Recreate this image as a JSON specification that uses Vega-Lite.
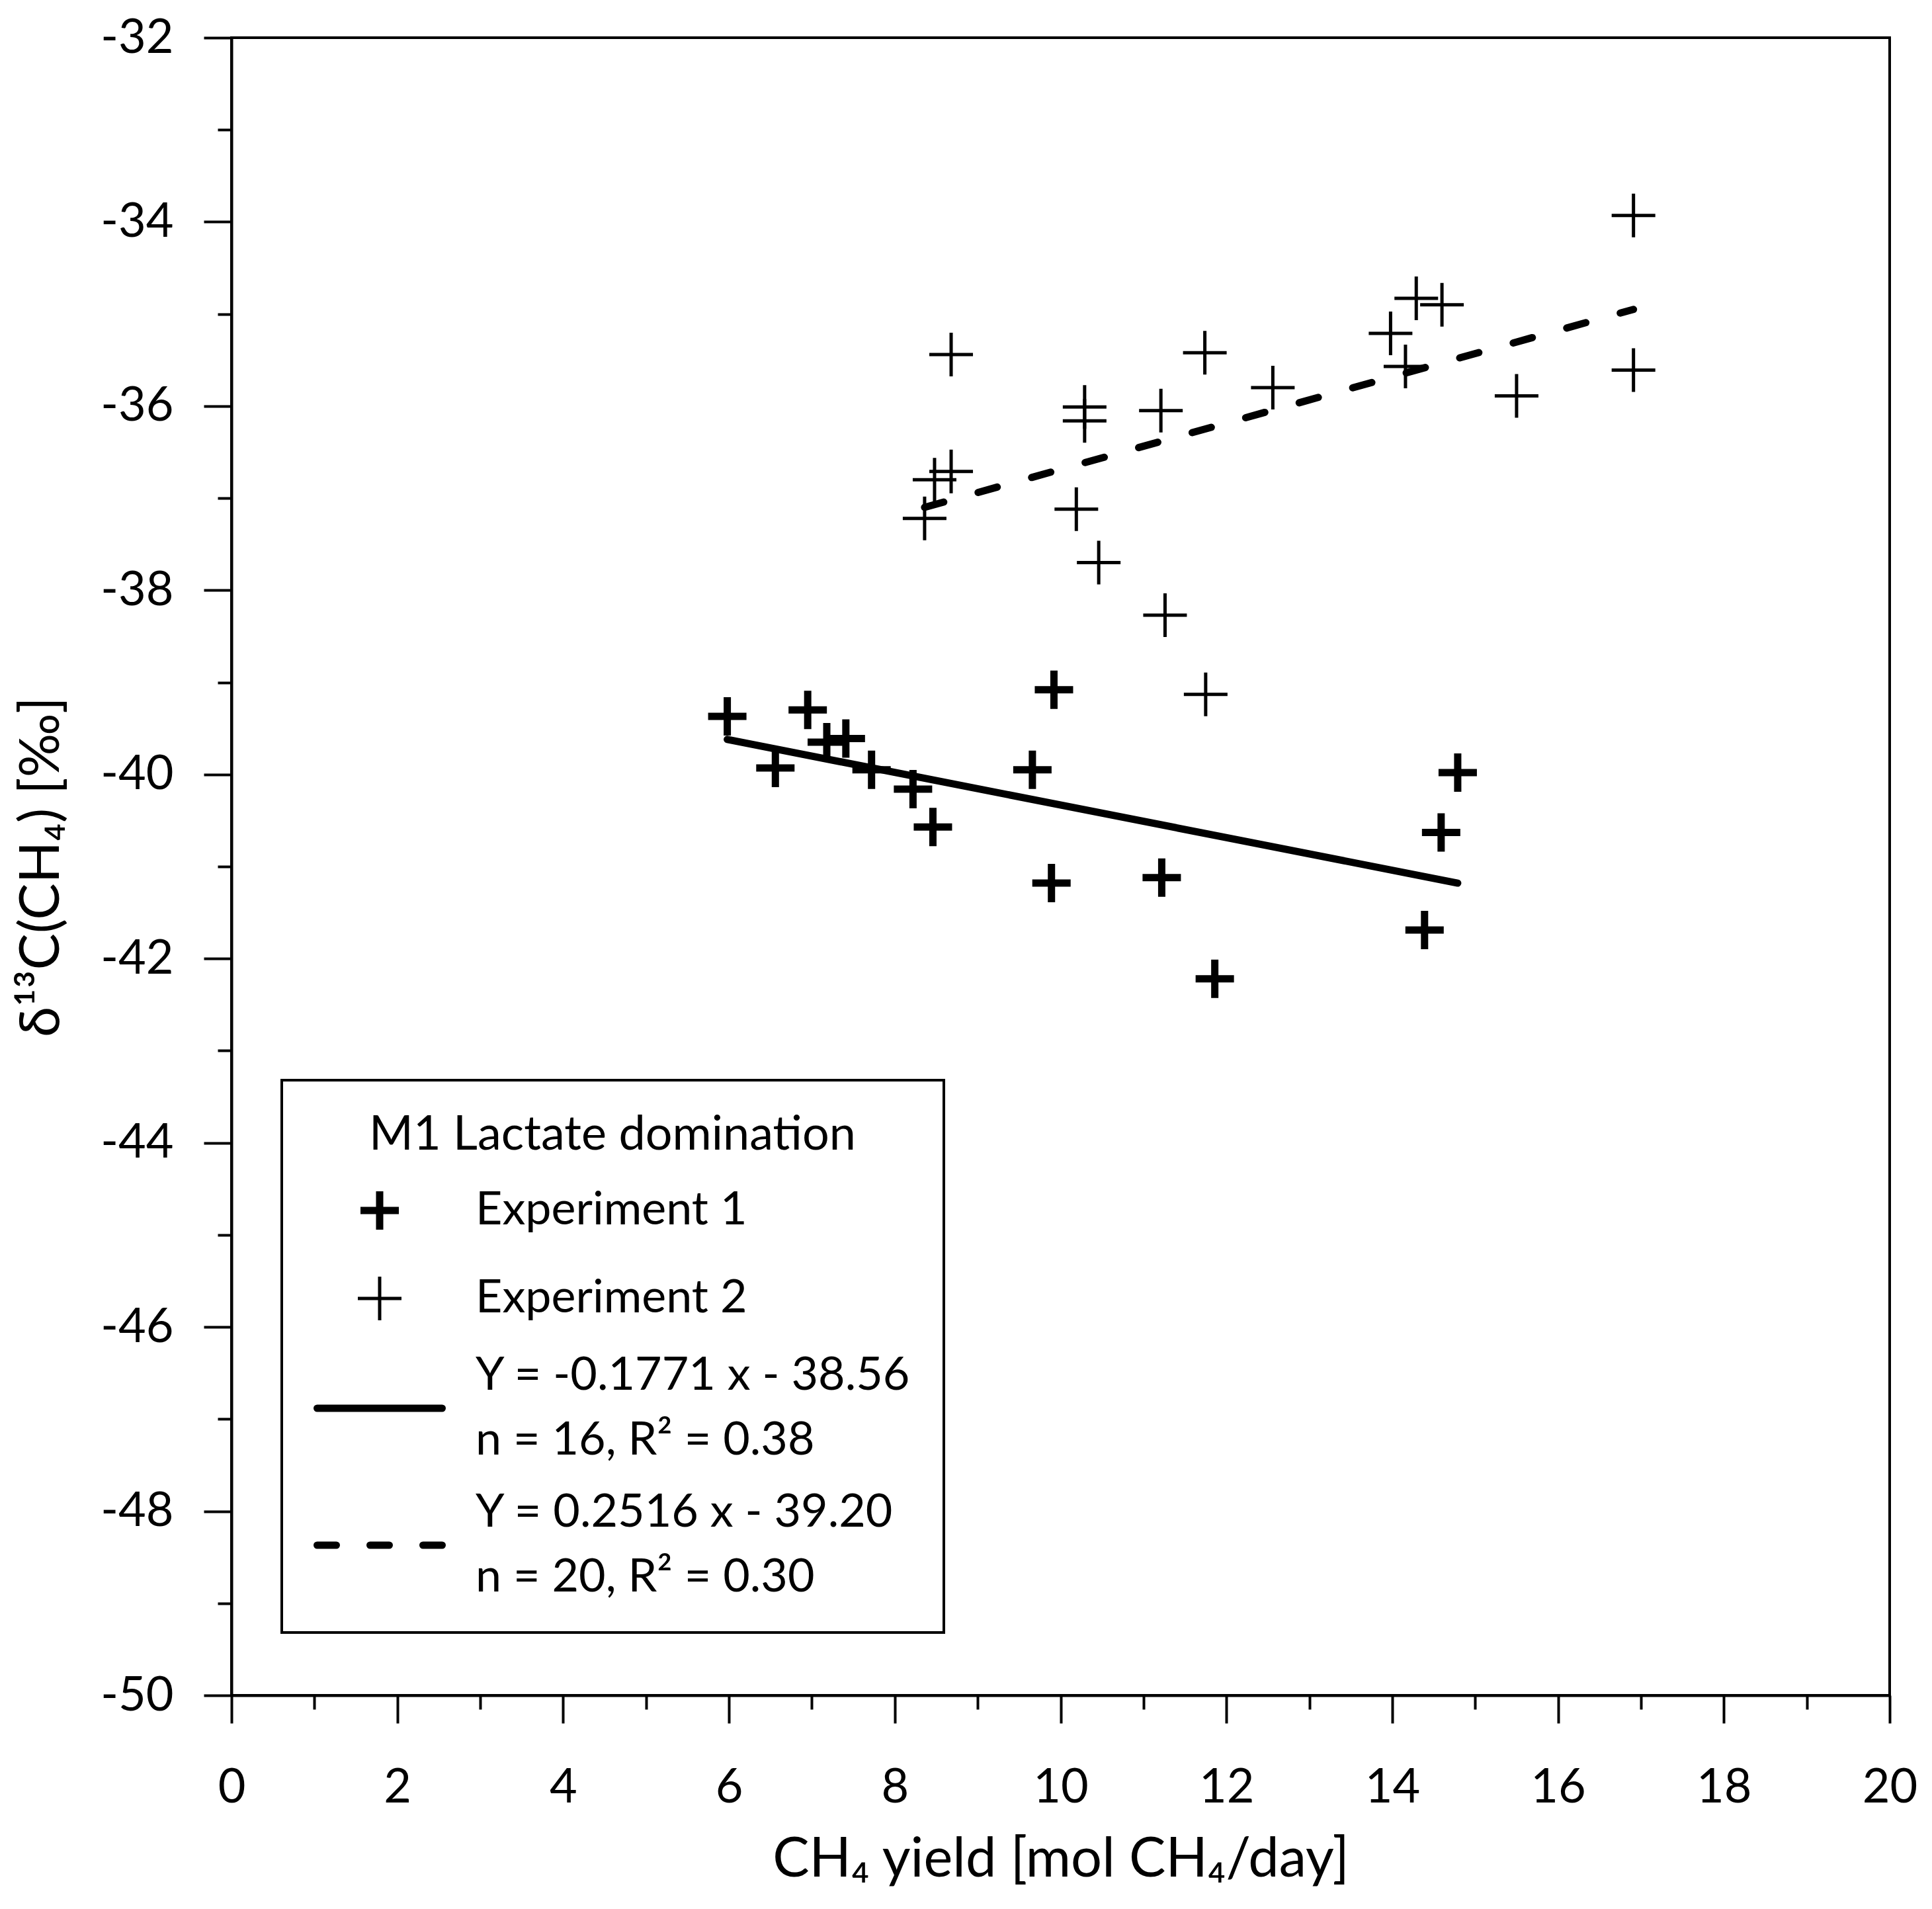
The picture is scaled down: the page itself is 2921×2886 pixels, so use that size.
{
  "$schema": "https://vega.github.io/schema/vega-lite/v6.json",
  "width": 2507,
  "height": 2506,
  "autosize": {"type": "none"},
  "padding": {"left": 350, "top": 57, "right": 64, "bottom": 323},
  "background": "white",
  "config": {
    "font": "Lato",
    "view": {"stroke": "black", "strokeWidth": 4},
    "axis": {
      "grid": false,
      "domainColor": "black",
      "domainWidth": 4,
      "tickColor": "black",
      "tickWidth": 4,
      "labelFont": "Lato",
      "labelFontSize": 72,
      "labelColor": "black",
      "labelFlush": false,
      "labelOverlap": false,
      "titleFont": "Lato",
      "titleFontSize": 83,
      "titleFontWeight": "normal",
      "titleColor": "black"
    }
  },
  "datasets": {
    "points": [
      {"series": "Experiment 1", "yield": 5.98, "d13c": -39.37},
      {"series": "Experiment 1", "yield": 6.56, "d13c": -39.93},
      {"series": "Experiment 1", "yield": 6.95, "d13c": -39.30},
      {"series": "Experiment 1", "yield": 7.18, "d13c": -39.65},
      {"series": "Experiment 1", "yield": 7.41, "d13c": -39.61},
      {"series": "Experiment 1", "yield": 7.72, "d13c": -39.95},
      {"series": "Experiment 1", "yield": 8.22, "d13c": -40.16},
      {"series": "Experiment 1", "yield": 8.46, "d13c": -40.57},
      {"series": "Experiment 1", "yield": 9.66, "d13c": -39.95},
      {"series": "Experiment 1", "yield": 9.92, "d13c": -39.08},
      {"series": "Experiment 1", "yield": 9.89, "d13c": -41.18},
      {"series": "Experiment 1", "yield": 11.22, "d13c": -41.12},
      {"series": "Experiment 1", "yield": 11.86, "d13c": -42.22},
      {"series": "Experiment 1", "yield": 14.39, "d13c": -41.69},
      {"series": "Experiment 1", "yield": 14.59, "d13c": -40.63},
      {"series": "Experiment 1", "yield": 14.79, "d13c": -39.98},
      {"series": "Experiment 2", "yield": 16.91, "d13c": -33.93},
      {"series": "Experiment 2", "yield": 16.91, "d13c": -35.61},
      {"series": "Experiment 2", "yield": 14.29, "d13c": -34.83},
      {"series": "Experiment 2", "yield": 14.60, "d13c": -34.90},
      {"series": "Experiment 2", "yield": 13.98, "d13c": -35.21},
      {"series": "Experiment 2", "yield": 14.16, "d13c": -35.57},
      {"series": "Experiment 2", "yield": 15.50, "d13c": -35.89},
      {"series": "Experiment 2", "yield": 11.74, "d13c": -35.42},
      {"series": "Experiment 2", "yield": 12.56, "d13c": -35.80},
      {"series": "Experiment 2", "yield": 8.68, "d13c": -35.44},
      {"series": "Experiment 2", "yield": 10.29, "d13c": -36.01},
      {"series": "Experiment 2", "yield": 10.29, "d13c": -36.16},
      {"series": "Experiment 2", "yield": 11.21, "d13c": -36.05},
      {"series": "Experiment 2", "yield": 8.68, "d13c": -36.71},
      {"series": "Experiment 2", "yield": 8.48, "d13c": -36.80},
      {"series": "Experiment 2", "yield": 8.36, "d13c": -37.22},
      {"series": "Experiment 2", "yield": 10.19, "d13c": -37.12},
      {"series": "Experiment 2", "yield": 10.46, "d13c": -37.70},
      {"series": "Experiment 2", "yield": 11.26, "d13c": -38.27},
      {"series": "Experiment 2", "yield": 11.75, "d13c": -39.13}
    ],
    "fits": [
      {"series": "Regression 1", "yield": 5.98, "d13c": -39.62},
      {"series": "Regression 1", "yield": 14.79, "d13c": -41.18},
      {"series": "Regression 2", "yield": 8.36, "d13c": -37.10},
      {"series": "Regression 2", "yield": 16.91, "d13c": -34.95}
    ]
  },
  "encoding": {
    "x": {"field": "yield", "type": "quantitative", "scale": {"domain": [0, 20], "nice": false, "zero": false}, "axis": null},
    "y": {"field": "d13c", "type": "quantitative", "scale": {"domain": [-50, -32], "nice": false, "zero": false}, "axis": null},
    "color": {
      "field": "series",
      "type": "nominal",
      "scale": {
        "domain": ["Experiment 1", "Experiment 2", "Regression 1", "Regression 2"],
        "range": ["black", "black", "black", "black"]
      },
      "legend": {
        "orient": "none",
        "legendX": 76,
        "legendY": 1576,
        "title": "M1 Lactate domination",
        "titleFont": "Lato",
        "titleFontSize": 72,
        "titleFontWeight": "normal",
        "titleColor": "black",
        "titleAnchor": "middle",
        "titleLimit": 3000,
        "titlePadding": 42,
        "labelFont": "Lato",
        "labelFontSize": 70,
        "labelColor": "black",
        "labelLimit": 0,
        "labelOffset": 110,
        "symbolOffset": 65,
        "labelExpr": "datum.value === 'Regression 1' ? ['Y = -0.1771 x - 38.56', 'n = 16, R² = 0.38'] : datum.value === 'Regression 2' ? ['Y = 0.2516 x - 39.20', 'n = 20, R² = 0.30'] : datum.label",
        "rowPadding": 39,
        "padding": 48,
        "strokeColor": "black",
        "symbolSize": 35721,
        "encode": {
          "legend": {"update": {"strokeWidth": {"value": 4}}},
          "labels": {
            "update": {
              "lineHeight": {"value": 98},
              "dy": {"signal": "(datum.value === 'Regression 1' || datum.value === 'Regression 2') ? -49 : 0"}
            }
          },
          "symbols": {
            "update": {
              "shape": {"signal": "(datum.value === 'Experiment 1' || datum.value === 'Experiment 2') ? 'M-1,0H1M0,-1V1' : 'M-1,0H1'"},
              "size": {"signal": "datum.value === 'Experiment 1' ? 3364 : datum.value === 'Experiment 2' ? 4356 : 35721"},
              "strokeWidth": {"signal": "datum.value === 'Experiment 2' ? 5 : 11"},
              "strokeDash": {"signal": "datum.value === 'Regression 2' ? [29, 51] : [1, 0]"},
              "strokeCap": {"signal": "(datum.value === 'Regression 1' || datum.value === 'Regression 2') ? 'round' : 'butt'"},
              "stroke": {"value": "black"},
              "fill": {"value": "transparent"},
              "opacity": {"value": 1},
              "strokeOpacity": {"value": 1}
            }
          }
        }
      }
    }
  },
  "layer": [
    {
      "data": {"name": "fits"},
      "transform": [{"filter": "datum.series === 'Regression 1'"}],
      "mark": {"type": "line", "strokeWidth": 11, "strokeCap": "round"}
    },
    {
      "data": {"name": "fits"},
      "transform": [{"filter": "datum.series === 'Regression 2'"}],
      "mark": {"type": "line", "strokeWidth": 11, "strokeCap": "round", "strokeDash": [30, 54]}
    },
    {
      "data": {"name": "points"},
      "transform": [{"filter": "datum.series === 'Experiment 1'"}],
      "mark": {"type": "point", "shape": "M-1,0H1M0,-1V1", "size": 3364, "strokeWidth": 11, "filled": false, "opacity": 1},
      "encoding": {
        "x": {
          "field": "yield", "type": "quantitative",
          "scale": {"domain": [0, 20], "nice": false, "zero": false},
          "axis": {
            "orient": "bottom",
            "values": [0, 2, 4, 6, 8, 10, 12, 14, 16, 18, 20],
            "tickSize": 42,
            "labelPadding": 62,
            "labelExpr": "toString(datum.value)",
            "title": "CH₄ yield [mol CH₄/day]",
            "titlePadding": 32
          }
        },
        "y": {
          "field": "d13c", "type": "quantitative",
          "scale": {"domain": [-50, -32], "nice": false, "zero": false},
          "axis": {
            "orient": "left",
            "values": [-50, -48, -46, -44, -42, -40, -38, -36, -34, -32],
            "tickSize": 42,
            "labelPadding": 46,
            "labelExpr": "toString(datum.value)",
            "title": "δ¹³C(CH₄) [‰]",
            "titlePadding": 46
          }
        }
      }
    },
    {
      "data": {"name": "points"},
      "transform": [{"filter": "datum.series === 'Experiment 2'"}],
      "mark": {"type": "point", "shape": "M-1,0H1M0,-1V1", "size": 4356, "strokeWidth": 5, "filled": false, "opacity": 1},
      "encoding": {
        "x": {
          "field": "yield", "type": "quantitative",
          "scale": {"domain": [0, 20], "nice": false, "zero": false},
          "axis": {
            "orient": "bottom",
            "values": [1, 3, 5, 7, 9, 11, 13, 15, 17, 19],
            "tickSize": 21,
            "labels": false,
            "domain": false,
            "title": null
          }
        },
        "y": {
          "field": "d13c", "type": "quantitative",
          "scale": {"domain": [-50, -32], "nice": false, "zero": false},
          "axis": {
            "orient": "left",
            "values": [-49, -47, -45, -43, -41, -39, -37, -35, -33],
            "tickSize": 21,
            "labels": false,
            "domain": false,
            "title": null
          }
        }
      }
    }
  ],
  "resolve": {"axis": {"x": "independent", "y": "independent"}}
}
